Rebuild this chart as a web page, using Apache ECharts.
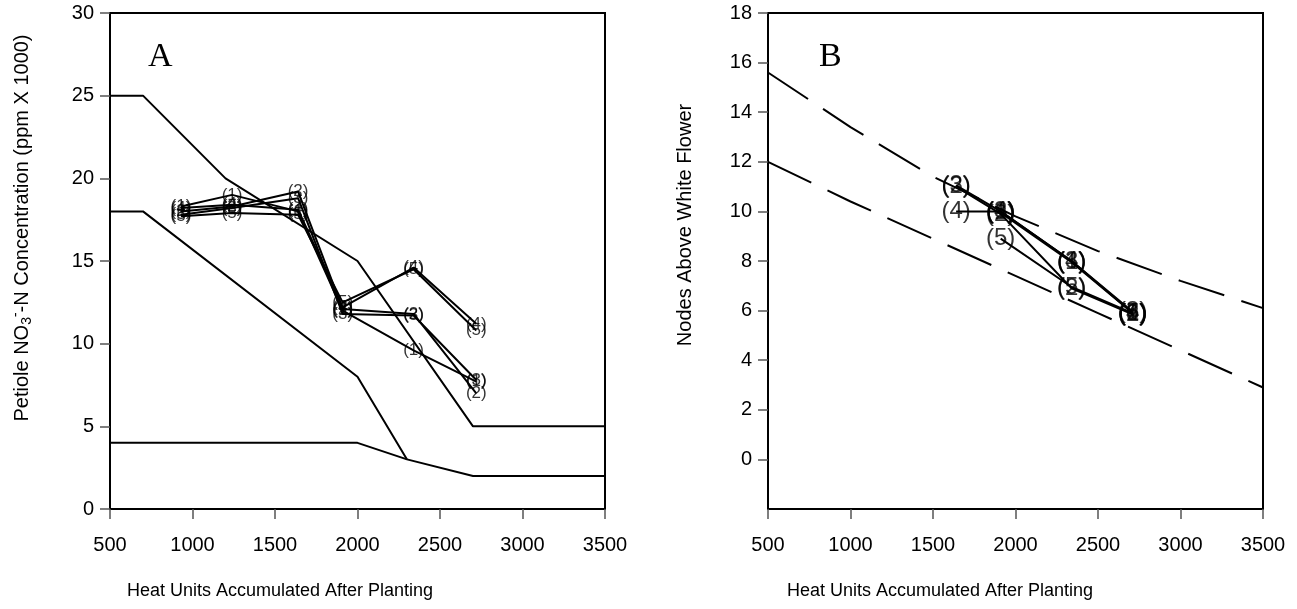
<!DOCTYPE html>
<html>
<head>
<meta charset="utf-8">
<script src="https://cdn.jsdelivr.net/npm/echarts@6/dist/echarts.min.js"></script>
<style>html,body{margin:0;padding:0;background:#fff}#c{width:1297px;height:609px}</style>
</head>
<body>
<div id="c"></div>
<script>
// ---------- data ----------
const xTicks = [500, 1000, 1500, 2000, 2500, 3000, 3500];
// Panel A: guideline lines (heat units, ppm x 1000)
const aUpperX = [500, 700, 1200, 2000, 2700, 3500];
const aUpperY = [25, 25, 20, 15, 5, 5];
const aMidX = [500, 700, 2000, 2300];
const aMidY = [18, 18, 8, 3];
const aLowX = [500, 2000, 2300, 2700, 3500];
const aLowY = [4, 4, 3, 2, 2];
// Panel A: sampling heat units and treatment values
const aHU = [930, 1240, 1640, 1910, 2340, 2720];
const aT1 = [18.3, 19.0, 18.0, 12.0, 9.6, 7.7];
const aT2 = [18.0, 18.3, 19.2, 12.1, 11.8, 7.0];
const aT3 = [17.8, 18.2, 18.8, 11.8, 11.7, 7.8];
const aT4 = [18.2, 18.4, 18.1, 12.2, 14.6, 11.2];
const aT5 = [17.7, 17.9, 17.8, 12.5, 14.5, 10.8];
// Panel B: dashed guideline curves
const bGuideX = [500, 1000, 1500, 2000, 2500, 3000, 3500];
const bUpper = [15.6, 13.4, 11.4, 9.8, 8.4, 7.2, 6.1];
const bLower = [12.0, 10.4, 8.9, 7.4, 5.9, 4.4, 2.9];
// Panel B: sampling heat units and treatment values (null = no sample)
const bHU = [1640, 1910, 2340, 2710];
const bT1 = [null, 9.95, 7.95, 5.9];
const bT2 = [11.0, 9.9, 6.9, 5.85];
const bT3 = [11.05, 10.0, 8.0, 5.95];
const bT4 = [10.0, 10.0, 8.0, 5.9];
const bT5 = [null, 8.9, 6.95, 5.9];
const treatNames = ['(1)', '(2)', '(3)', '(4)', '(5)'];
const aYTicks = [0, 5, 10, 15, 20, 25, 30];
const bYTicks = [0, 2, 4, 6, 8, 10, 12, 14, 16, 18];
const xTitle = 'Heat Units Accumulated After Planting';
const aYTitle = 'Petiole NO{sub|3}{sup|-}-N Concentration (ppm X 1000)';
const bYTitle = 'Nodes Above White Flower';

// ---------- build ----------
const FONT = "'Liberation Sans', Arial, sans-serif";
const SERIF = "'Liberation Serif', 'Times New Roman', serif";
function pairs(xs, ys) { const o = []; xs.forEach((x, i) => { if (ys[i] != null) o.push([x, ys[i]]); }); return o; }

function xAx(idx) {
  return {
    gridIndex: idx, type: 'value', min: 500, max: 3500, interval: 500,
    axisLine: { show: true, onZero: false, lineStyle: { color: '#000', width: 2 } },
    axisTick: { show: true, inside: false, length: 10, lineStyle: { color: '#555', width: 1.5 }, customValues: xTicks },
    axisLabel: { color: '#000', fontSize: 20, fontFamily: FONT, margin: 26, customValues: xTicks, formatter: v => String(v) },
    splitLine: { show: false }
  };
}

const series = [];
const lineBase = { type: 'line', symbol: 'none', silent: true, lineStyle: { color: '#000', width: 2 }, z: 2 };
series.push(Object.assign({}, lineBase, { xAxisIndex: 0, yAxisIndex: 0, data: pairs(aUpperX, aUpperY) }));
series.push(Object.assign({}, lineBase, { xAxisIndex: 0, yAxisIndex: 0, data: pairs(aMidX, aMidY) }));
series.push(Object.assign({}, lineBase, { xAxisIndex: 0, yAxisIndex: 0, data: pairs(aLowX, aLowY) }));
series.push(Object.assign({}, lineBase, { xAxisIndex: 1, yAxisIndex: 1, data: pairs(bGuideX, bUpper), lineStyle: { color: '#000', width: 2, type: [48, 18] } }));
series.push(Object.assign({}, lineBase, { xAxisIndex: 1, yAxisIndex: 1, data: pairs(bGuideX, bLower), lineStyle: { color: '#000', width: 2, type: [48, 18] } }));

function addTreat(ax, hu, vals, name, fs) {
  const d = pairs(hu, vals);
  series.push(Object.assign({}, lineBase, { xAxisIndex: ax, yAxisIndex: ax, data: d, z: 3 }));
  series.push({
    type: 'scatter', xAxisIndex: ax, yAxisIndex: ax, data: d, symbol: 'circle', symbolSize: 2, silent: true, z: 4,
    itemStyle: { color: 'rgba(0,0,0,0)' },
    label: { show: true, position: 'inside', formatter: name, color: '#000', fontSize: fs, fontFamily: FONT }
  });
}
[aT1, aT2, aT3, aT4, aT5].forEach((v, i) => addTreat(0, aHU, v, treatNames[i], 17));
[bT1, bT2, bT3, bT4, bT5].forEach((v, i) => addTreat(1, bHU, v, treatNames[i], 24));

const titleStyle = { fill: '#000', fontSize: 18, fontFamily: FONT, align: 'center', verticalAlign: 'middle' };
const option = {
  backgroundColor: '#fff',
  animation: false,
  grid: [
    { left: 110, top: 13, width: 495, height: 496, show: true, borderColor: '#000', borderWidth: 2, backgroundColor: 'transparent' },
    { left: 768, top: 13, width: 495, height: 496, show: true, borderColor: '#000', borderWidth: 2, backgroundColor: 'transparent' }
  ],
  xAxis: [xAx(0), xAx(1)],
  yAxis: [
    {
      gridIndex: 0, type: 'value', min: 0, max: 30, interval: 5,
      axisLine: { show: true, onZero: false, lineStyle: { color: '#000', width: 2 } },
      axisTick: { show: true, inside: false, length: 10, lineStyle: { color: '#555', width: 1.5 }, customValues: aYTicks },
      axisLabel: { color: '#000', fontSize: 20, fontFamily: FONT, margin: 16, customValues: aYTicks },
      splitLine: { show: false }
    },
    {
      gridIndex: 1, type: 'value', min: -2, max: 18, interval: 2,
      axisLine: { show: true, onZero: false, lineStyle: { color: '#000', width: 2 } },
      axisTick: { show: true, inside: false, length: 10, lineStyle: { color: '#555', width: 1.5 }, customValues: bYTicks },
      axisLabel: { color: '#000', fontSize: 20, fontFamily: FONT, margin: 16, customValues: bYTicks },
      splitLine: { show: false }
    }
  ],
  graphic: [
    { type: 'text', left: 148, top: 40, style: { text: 'A', fontSize: 34, fontFamily: SERIF, fill: '#000' } },
    { type: 'text', left: 819, top: 40, style: { text: 'B', fontSize: 34, fontFamily: SERIF, fill: '#000' } },
    { type: 'text', x: 280, y: 591, style: Object.assign({ text: xTitle }, titleStyle) },
    { type: 'text', x: 940, y: 591, style: Object.assign({ text: xTitle }, titleStyle) },
    { type: 'text', x: 22, y: 228, rotation: Math.PI / 2, style: Object.assign({ text: aYTitle, fontSize: 20, rich: {
        sub: { fontSize: 14, fontFamily: FONT, fill: '#000', padding: [11, 0, 0, 0] },
        sup: { fontSize: 14, fontFamily: FONT, fill: '#000', padding: [0, 0, 11, 0] } } }, { fill: '#000', fontFamily: FONT, align: 'center', verticalAlign: 'middle' }) },
    { type: 'text', x: 685, y: 225, rotation: Math.PI / 2, style: Object.assign({ text: bYTitle }, titleStyle, { fontSize: 20 }) }
  ],
  series: series
};
const chart = echarts.init(document.getElementById('c'), null, { renderer: 'canvas' });
chart.setOption(option);
</script>
</body>
</html>
